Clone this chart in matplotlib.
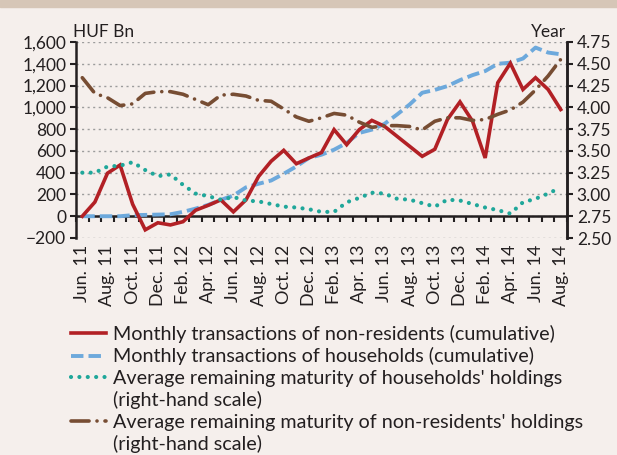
import matplotlib
matplotlib.use('Agg')
import matplotlib.pyplot as plt
from matplotlib.lines import Line2D
from matplotlib.ticker import FixedLocator, FuncFormatter, MultipleLocator
import numpy as np

plt.rcParams['font.family'] = ['Lato', 'DejaVu Sans']

months = ['Jun.', 'Jul.', 'Aug.', 'Sep.', 'Oct.', 'Nov.', 'Dec.',
          'Jan.', 'Feb.', 'Mar.', 'Apr.', 'May', 'Jun.', 'Jul.', 'Aug.', 'Sep.', 'Oct.', 'Nov.', 'Dec.',
          'Jan.', 'Feb.', 'Mar.', 'Apr.', 'May', 'Jun.', 'Jul.', 'Aug.', 'Sep.', 'Oct.', 'Nov.', 'Dec.',
          'Jan.', 'Feb.', 'Mar.', 'Apr.', 'May', 'Jun.', 'Jul.', 'Aug.']
years = ['11'] * 7 + ['12'] * 12 + ['13'] * 12 + ['14'] * 8

# HUF Bn, cumulative
non_residents = [0, 130, 395, 470, 110, -125, -60, -80, -50, 55,
                 100, 150, 40, 150, 365, 505, 605, 482, 535, 585,
                 795, 657, 795, 880, 826, 734, 642, 550, 615, 888,
                 1050, 872, 535, 1226, 1405, 1164, 1272, 1164, 980]
households = [0, 0, 0, 0, 10, 12, 15, 18, 40, 70,
              104, 150, 190, 265, 298, 328, 390, 457, 535, 565,
              611, 673, 765, 795, 848, 934, 1026, 1134, 1160, 1195,
              1250, 1296, 1333, 1400, 1410, 1448, 1549, 1503, 1487]
# years (right-hand scale)
hh_maturity = [3.25, 3.25, 3.32, 3.33, 3.37, 3.28, 3.21, 3.23, 3.11, 3.01,
               2.98, 2.94, 2.97, 2.93, 2.92, 2.89, 2.86, 2.85, 2.83, 2.80,
               2.80, 2.91, 2.96, 3.02, 3.01, 2.95, 2.94, 2.90, 2.86, 2.94,
               2.93, 2.89, 2.85, 2.82, 2.78, 2.91, 2.95, 3.01, 3.08]
nr_maturity = [4.34, 4.16, 4.11, 4.02, 4.04, 4.16, 4.18, 4.18, 4.15, 4.09,
               4.03, 4.14, 4.15, 4.13, 4.08, 4.07, 3.98, 3.89, 3.84, 3.88,
               3.93, 3.91, 3.83, 3.77, 3.79, 3.79, 3.78, 3.74, 3.84, 3.88,
               3.88, 3.85, 3.86, 3.92, 3.97, 4.06, 4.20, 4.36, 4.55]

labels = ['Monthly transactions of non-residents (cumulative)',
          'Monthly transactions of households (cumulative)',
          "Average remaining maturity of households' holdings\n(right-hand scale)",
          "Average remaining maturity of non-residents' holdings\n(right-hand scale)"]

bg = '#F5EFEC'
dark = '#231F20'
red = '#B22025'
blue = '#6DA9DC'
teal = '#1FA79A'
brown = '#774D33'

x = np.arange(len(months))
tick_labels = [f'{m} {y}' for m, y in zip(months, years)]

fig = plt.figure(figsize=(6.17, 4.55), dpi=100, facecolor=bg)
fig.patches.append(plt.Rectangle((0, 1 - 7 / 455), 1, 7 / 455, transform=fig.transFigure,
                                 color='#D6C6B7', zorder=0))
ax = fig.add_axes([76 / 617, 1 - 238 / 455, 491 / 617, 196 / 455])
ax.set_facecolor(bg)
ax2 = ax.twinx()

l1, = ax.plot(x, non_residents, color=red, lw=2.6, solid_joinstyle='miter', zorder=4)
l2, = ax.plot(x, households, color=blue, lw=2.8, dashes=(3.2, 1.3), zorder=3)
l3, = ax2.plot(x, hh_maturity, color=teal, lw=3.0, dashes=(0.01, 2.0), dash_capstyle='round')
l4, = ax2.plot(x, nr_maturity, color=brown, lw=2.6, dashes=(5, 2.2, 0.01, 2.2),
               dash_capstyle='round')

ax.set_xlim(-0.5, len(x) - 0.5)
ax.set_ylim(-200, 1600)
ax2.set_ylim(2.5, 4.75)

ax.yaxis.set_major_locator(MultipleLocator(200))
ax.yaxis.set_major_formatter(FuncFormatter(lambda v, p: f'{v:,.0f}'.replace('-', '\u2212')))
ax2.yaxis.set_major_locator(MultipleLocator(0.25))
ax2.yaxis.set_major_formatter(FuncFormatter(lambda v, p: f'{v:.2f}'))

for a in (ax, ax2):
    a.spines['top'].set_visible(False)
    for s in a.spines.values():
        s.set_color(dark)
        s.set_linewidth(1.8)
    a.tick_params(axis='y', direction='out', length=4, width=1.5, color=dark,
                  labelsize=12.5, labelcolor=dark, pad=3)
ax2.spines['left'].set_visible(False)
ax2.spines['bottom'].set_visible(False)

ax.grid(axis='y', color='#9C9C9C', linestyle=(0, (1.5, 2.5)), linewidth=1.0)
ax.set_axisbelow(True)

# category axis crossing at zero
ax.spines['bottom'].set_position(('data', 0))
ax.xaxis.set_major_locator(FixedLocator(np.arange(-0.5, len(x), 1.0)))
ax.tick_params(axis='x', direction='out', length=4, width=1.5, color=dark, labelbottom=False)

sec = ax.secondary_xaxis('bottom')
sec.spines['bottom'].set_visible(False)
sec.xaxis.set_major_locator(FixedLocator(x[::2]))
sec.set_xticklabels(tick_labels[::2], rotation=90)
sec.tick_params(axis='x', length=0, pad=5, labelsize=13, labelcolor=dark)

fig.text(73 / 617, 1 - 37 / 455, 'HUF Bn', fontsize=12.5, color=dark)
fig.text(566 / 617, 1 - 37 / 455, 'Year', fontsize=12.5, color=dark, ha='right')

# legend: handle sits on the first line of a wrapped label
handles, texts = [], []
for h, lab in zip([l1, l2, l3, l4], labels):
    for i, line in enumerate(lab.split('\n')):
        handles.append(h if i == 0 else Line2D([], [], linestyle='none'))
        texts.append(line)

fig.legend(handles, texts, loc='upper left', bbox_to_anchor=(71 / 617, 1 - 325 / 455),
           frameon=False, fontsize=14.2, handlelength=1.75, handletextpad=0.4,
           labelspacing=0.22, borderaxespad=0, borderpad=0, labelcolor=dark)

fig.savefig('out.png', dpi=100, facecolor=bg)
